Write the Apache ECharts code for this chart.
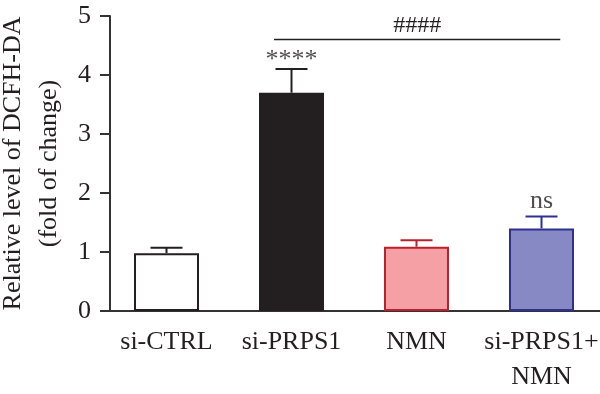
<!DOCTYPE html>
<html><head><meta charset="utf-8">
<script src="https://cdn.jsdelivr.net/npm/echarts@6/dist/echarts.min.js"></script>
<style>html,body{margin:0;padding:0;background:#fff}#c{width:600px;height:394px}</style>
</head><body><div id="c"></div>
<script>
var categories = ['si-CTRL', 'si-PRPS1', 'NMN', 'si-PRPS1+\nNMN'];
var means = [0.98, 3.70, 1.09, 1.40];
var errors = [0.09, 0.40, 0.11, 0.20];
var sigLabels = ['', '****', '', 'ns'];
var yTicks = [0, 1, 2, 3, 4, 5];
var fills = ['#ffffff', '#231f20', '#f4a0a4', '#8689c4'];
var strokes = ['#231f20', '#231f20', '#be1e2d', '#2e3192'];
var bracketX = [1.36, 3.65];
var bracketY = 4.6;
var bracketLabel = '####';

var FONT = 'Liberation Serif';
var chart = echarts.init(document.getElementById('c'));
chart.setOption({
  animation: false,
  grid: {left: 104, right: -4, top: 16, bottom: 83, containLabel: false, outerBoundsMode: 'none'},
  xAxis: [{
    type: 'category', data: categories,
    axisLine: {lineStyle: {color: '#333', width: 2}},
    axisTick: {alignWithLabel: true, length: 10, lineStyle: {color: '#333', width: 2}},
    axisLabel: {color: '#231f20', fontFamily: FONT, fontSize: 26, margin: 14, lineHeight: 35, interval: 0}
  }, {
    type: 'value', min: 0, max: 4, show: false
  }],
  yAxis: {
    type: 'value', min: yTicks[0], max: yTicks[yTicks.length - 1], interval: 1, offset: -6,
    name: 'Relative level of DCFH-DA\n(fold of change)', nameLocation: 'middle', nameGap: 39,
    nameTextStyle: {color: '#231f20', fontFamily: FONT, fontSize: 26, lineHeight: 36},
    axisLine: {show: true, lineStyle: {color: '#333', width: 2}},
    axisTick: {show: true, length: 10, lineStyle: {color: '#333', width: 2}},
    axisLabel: {color: '#231f20', fontFamily: FONT, fontSize: 26, margin: 19},
    splitLine: {show: false}
  },
  series: [{
    type: 'bar', barWidth: 65,
    data: means.map(function (v, i) {
      return {value: v, itemStyle: {color: fills[i], borderColor: strokes[i], borderWidth: 2}};
    }),
    z: 2
  }, {
    type: 'custom',
    renderItem: function (params, api) {
      var i = api.value(0);
      var top = api.coord([i, means[i] + errors[i]]);
      var base = api.coord([i, means[i]]);
      var hw = 16;
      var st = {stroke: strokes[i], lineWidth: 2};
      return {type: 'group', children: [
        {type: 'line', shape: {x1: base[0], y1: base[1], x2: top[0], y2: top[1]}, style: st},
        {type: 'line', shape: {x1: top[0] - hw, y1: top[1], x2: top[0] + hw, y2: top[1]}, style: st}
      ]};
    },
    data: means.map(function (v, i) { return [i, v + errors[i]]; }),
    z: 3
  }, {
    type: 'scatter', symbolSize: 0,
    data: means.map(function (v, i) {
      return {value: [i, v + errors[i]], label: {distance: sigLabels[i] === 'ns' ? 2 : -4}};
    }),
    label: {show: true, position: 'top', color: '#231f20', fontFamily: FONT, fontSize: 26,
      formatter: function (p) { return sigLabels[p.dataIndex]; }},
    z: 4
  }, {
    type: 'line', xAxisIndex: 1, symbol: 'none',
    data: [[bracketX[0], bracketY], [bracketX[1], bracketY]],
    lineStyle: {color: '#231f20', width: 1.5},
    markPoint: {
      symbol: 'rect', symbolSize: 0,
      data: [{coord: [(bracketX[0] + bracketX[1]) / 2, bracketY]}],
      label: {show: true, position: 'top', distance: 2, formatter: bracketLabel, color: '#231f20', fontFamily: FONT, fontSize: 24}
    }
  }]
});
</script></body></html>
